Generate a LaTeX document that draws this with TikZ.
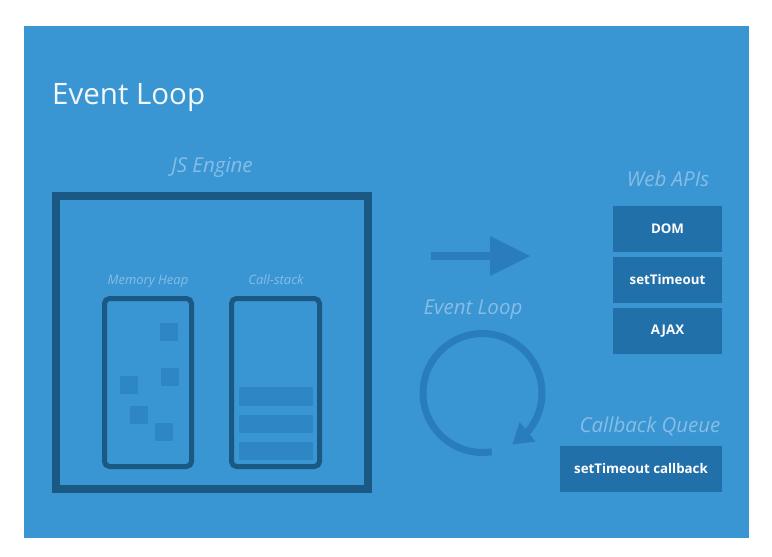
\documentclass[tikz,border=0pt]{standalone}
\usepackage{fontspec}
\setmainfont{Open Sans}
\usetikzlibrary{arrows.meta,bending}
\definecolor{bg}{HTML}{3A96D3}
\definecolor{darkb}{HTML}{1B5985}
\definecolor{apib}{HTML}{2270AA}
\definecolor{blk}{HTML}{2F86C4}
\definecolor{loopc}{HTML}{2A7DBD}
\definecolor{lbl}{HTML}{85BDE7}
\definecolor{ttl}{HTML}{F2F7FB}
\tikzset{
  frame/.style={draw=darkb, line width=8pt, minimum width=312pt, minimum height=293pt, inner sep=0pt},
  pane/.style={draw=darkb, line width=5pt, rounded corners=5pt, minimum height=168pt, inner sep=0pt},
  blob/.style={fill=blk, minimum width=18pt, minimum height=18pt, inner sep=0pt},
  bar/.style={fill=blk, minimum width=74pt, minimum height=18.5pt, inner sep=0pt},
  apibox/.style={fill=apib, text=white, font=\bfseries\fontsize{13.3}{15}\selectfont, minimum width=109pt, minimum height=46pt, inner sep=0pt},
  bigl/.style={text=lbl, font=\itshape\fontsize{20.5}{24}\selectfont, inner sep=0pt, anchor=base},
  smalll/.style={text=lbl, font=\itshape\fontsize{13}{15}\selectfont, inner sep=0pt, anchor=base},
}
\begin{document}
\begin{tikzpicture}[x=1pt,y=-1pt]
\useasboundingbox (0,0) rectangle (772,557);
\fill[white] (0,0) rectangle (772,557);
\fill[bg] (24,26) rectangle (749,538);
\node[anchor=base west, text=ttl, font=\fontsize{29.5}{32}\selectfont, inner sep=0pt] (title) at (52,104) {Event Loop};
% JS engine
\node[bigl] (jsl) at (212,172) {JS Engine};
\node[frame] (engine) at (212,342.5) {};
\node[smalll] (heapl) at (148,284) {Memory Heap};
\node[smalll] (stackl) at (276,284) {Call-stack};
\node[pane, minimum width=87pt] (heap) at (148,382.5) {};
\node[pane, minimum width=88pt] (stack) at (275.5,382.5) {};
\node[blob] (b1) at (169,331.5) {};
\node[blob] (b2) at (170,376.5) {};
\node[blob] (b3) at (129,385) {};
\node[blob] (b4) at (139,415) {};
\node[blob] (b5) at (164,432) {};
\node[bar] (s1) at (276,396.5) {};
\node[bar] (s2) at (276,424) {};
\node[bar] (s3) at (276,451) {};
% arrow
\coordinate (a0) at (431,256);
\coordinate (a1) at (490,256);
\coordinate (a2) at (530,256);
\draw[loopc, line width=8pt] (a0) -- (a1);
\fill[loopc] (490,236) -- (a2) -- (490,276) -- cycle;
% event loop
\node[bigl] (evl) at (473,314) {Event Loop};
\coordinate (lc) at (482.5,393);
\draw[loopc, line width=7pt, -{Triangle[length=20pt,width=24pt]}] ([shift={(81:59.5)}]lc) arc[start angle=81, end angle=420, radius=59.5];
% web apis
\node[bigl] (webl) at (668,186) {Web APIs};
\node[apibox] (dom) at (667.5,229) {DOM};
\node[apibox] (st) at (667.5,280) {setTimeout};
\node[apibox] (ajax) at (667.5,331) {AJAX};
% callback queue
\node[bigl] (cbl) at (650,432) {Callback Queue};
\node[apibox, minimum width=162pt] (cb) at (641,469) {setTimeout callback};
\end{tikzpicture}
\end{document}
